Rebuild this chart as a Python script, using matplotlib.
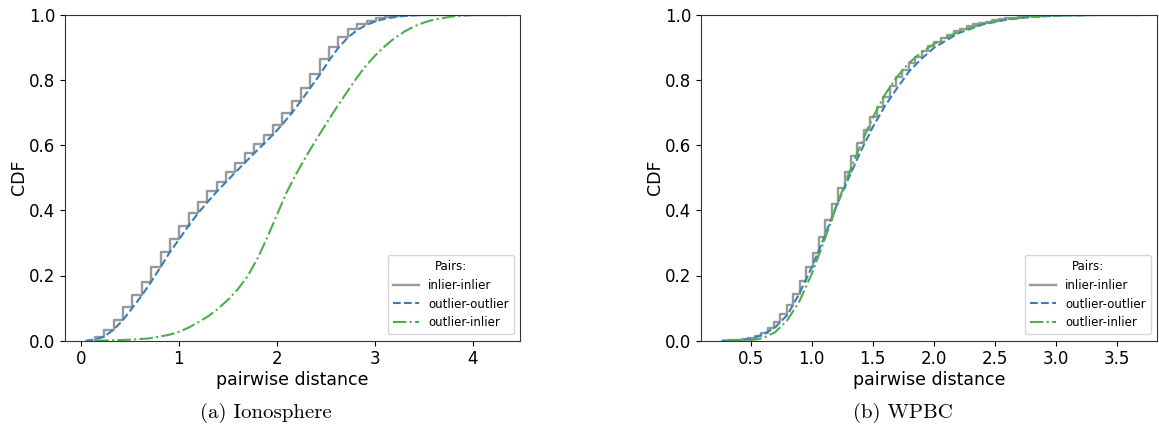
import numpy as np
import matplotlib
matplotlib.use("Agg")
import matplotlib.pyplot as plt

# ---------------- Ionosphere ----------------
# inlier-inlier: cumulative histogram (bin left edges and cumulative heights)
iono_ii_edges_start = 0.146
iono_ii_bin_width = 0.0955
iono_ii_cdf = [0.012, 0.033, 0.064, 0.102, 0.139, 0.180, 0.227, 0.272, 0.311, 0.353,
               0.393, 0.425, 0.458, 0.487, 0.517, 0.546, 0.575, 0.602, 0.631, 0.662,
               0.698, 0.736, 0.776, 0.818, 0.863, 0.902, 0.931, 0.955, 0.971, 0.982,
               0.990, 0.994, 0.997, 0.999, 1.0, 1.0, 1.0, 1.0, 1.0, 1.0, 1.0, 1.0, 1.0, 1.0]

# outlier-outlier: smoothed CDF
iono_oo_x = [0.05, 0.15, 0.2415, 0.337, 0.4325, 0.528, 0.6235, 0.719, 0.8145, 0.910,
             1.0055, 1.101, 1.1965, 1.292, 1.3875, 1.483, 1.5785, 1.674, 1.7695, 1.865,
             1.9605, 2.056, 2.1515, 2.247, 2.3425, 2.438, 2.5335, 2.629, 2.7245, 2.82,
             2.9155, 3.011, 3.1065, 3.25, 3.45, 3.7, 3.95]
iono_oo_y = [0.0, 0.004, 0.013, 0.034, 0.064, 0.101, 0.139, 0.181, 0.226, 0.272,
             0.312, 0.353, 0.391, 0.425, 0.457, 0.487, 0.517, 0.546, 0.575, 0.603,
             0.632, 0.663, 0.698, 0.736, 0.776, 0.816, 0.860, 0.899, 0.930, 0.953,
             0.969, 0.980, 0.988, 0.995, 0.999, 1.0, 1.0]

# outlier-inlier: smoothed CDF
iono_oi_x = [0.15, 0.3, 0.5, 0.7, 0.9, 1.0, 1.1, 1.2, 1.3, 1.4, 1.5, 1.6, 1.7, 1.8, 1.9,
             2.0, 2.1, 2.2, 2.3, 2.4, 2.5, 2.6, 2.7, 2.8, 2.9, 3.0, 3.1, 3.2, 3.3, 3.4,
             3.5, 3.6, 3.8, 4.0, 4.27]
iono_oi_y = [0.0, 0.001, 0.003, 0.007, 0.018, 0.027, 0.040, 0.057, 0.075, 0.098, 0.125,
             0.157, 0.197, 0.250, 0.315, 0.385, 0.455, 0.513, 0.566, 0.616, 0.664, 0.711,
             0.756, 0.800, 0.840, 0.874, 0.903, 0.928, 0.948, 0.964, 0.976, 0.985,
             0.995, 0.999, 1.0]

# ---------------- WPBC ----------------
wpbc_ii_edges_start = 0.27
wpbc_ii_bin_width = 0.0526
wpbc_ii_cdf = [0.0005, 0.001, 0.002, 0.004, 0.007, 0.014, 0.023, 0.038, 0.058, 0.082,
               0.110, 0.143, 0.184, 0.225, 0.270, 0.319, 0.370, 0.419, 0.467, 0.517,
               0.567, 0.607, 0.646, 0.685, 0.716, 0.748, 0.781, 0.810, 0.830, 0.851,
               0.869, 0.888, 0.903, 0.916, 0.928, 0.939, 0.949, 0.957, 0.964, 0.970,
               0.975, 0.979, 0.983, 0.986, 0.989, 0.991, 0.993, 0.995, 0.996, 0.997,
               0.998, 0.998, 0.999, 0.999, 0.9995, 1.0, 1.0, 1.0, 1.0, 1.0, 1.0, 1.0,
               1.0, 1.0, 1.0]

wpbc_oo_x = [0.26, 0.4, 0.5, 0.6, 0.7, 0.8, 0.9, 1.0, 1.1, 1.2, 1.3, 1.4, 1.5, 1.6, 1.7,
             1.8, 1.9, 2.0, 2.2, 2.4, 2.6, 2.8, 3.0, 3.3, 3.66]
wpbc_oo_y = [0.0, 0.001, 0.005, 0.019, 0.041, 0.079, 0.146, 0.225, 0.315, 0.412, 0.497,
             0.580, 0.655, 0.720, 0.775, 0.827, 0.865, 0.898, 0.943, 0.970, 0.985,
             0.993, 0.997, 0.999, 1.0]

wpbc_oi_x = [0.3, 0.45, 0.55, 0.6, 0.7, 0.8, 0.9, 1.0, 1.1, 1.2, 1.3, 1.4, 1.5, 1.6, 1.7,
             1.8, 1.9, 2.0, 2.2, 2.4, 2.6, 2.8, 3.0, 3.3, 3.65]
wpbc_oi_y = [0.0, 0.001, 0.004, 0.008, 0.026, 0.063, 0.122, 0.205, 0.305, 0.410, 0.510,
             0.600, 0.685, 0.755, 0.810, 0.853, 0.885, 0.910, 0.947, 0.972, 0.986,
             0.994, 0.997, 0.999, 1.0]

series_labels = ["inlier-inlier", "outlier-outlier", "outlier-inlier"]
captions = ["(a) Ionosphere", "(b) WPBC"]
iono_xticks = [0, 1, 2, 3, 4]
wpbc_xticks = [0.5, 1.0, 1.5, 2.0, 2.5, 3.0, 3.5]

GRAY = "#999999"
BLUE = "#377eb8"
GREEN = "#4daf4a"

plt.rcParams["font.family"] = ["DejaVu Sans"]

fig = plt.figure(figsize=(11.59, 4.33), dpi=100)
ax1 = fig.add_axes([65 / 1159, 92.3 / 433, 455 / 1159, 326 / 433])
ax2 = fig.add_axes([701 / 1159, 92.3 / 433, 456 / 1159, 326 / 433])


def draw(ax, start, width, cdf, oo_x, oo_y, oi_x, oi_y, xlim, xticks, xticklabels):
    edges = start + width * np.arange(len(cdf) + 1)
    xs = np.concatenate([[edges[0]], edges])
    ys = np.concatenate([[0.0], cdf, [cdf[-1]]])
    ax.step(xs, ys, where="post", color=GRAY, lw=1.7, label=series_labels[0])
    ax.plot(oo_x, oo_y, color=BLUE, lw=1.5, ls="--", label=series_labels[1])
    ax.plot(oi_x, oi_y, color=GREEN, lw=1.5, ls="-.", label=series_labels[2])
    ax.set_xlim(*xlim)
    ax.set_ylim(0, 1)
    ax.set_xticks(xticks)
    ax.set_xticklabels(xticklabels)
    ax.set_yticks([0, 0.2, 0.4, 0.6, 0.8, 1.0])
    ax.set_yticklabels(["0.0", "0.2", "0.4", "0.6", "0.8", "1.0"])
    ax.tick_params(labelsize=12)
    ax.set_xlabel("pairwise distance", fontsize=12.5, labelpad=1.5)
    ax.set_ylabel("CDF", fontsize=12.5, labelpad=1)
    ax.legend(title="Pairs:", loc="lower right", fontsize=8.5, title_fontsize=8.5,
              handlelength=2.2, handletextpad=0.8, borderaxespad=0.55,
              labelspacing=0.5)
    for sp in ax.spines.values():
        sp.set_color("#333333")


draw(ax1, iono_ii_edges_start, iono_ii_bin_width, iono_ii_cdf,
     iono_oo_x, iono_oo_y, iono_oi_x, iono_oi_y, (-0.16, 4.48),
     iono_xticks, [str(t) for t in iono_xticks])
draw(ax2, wpbc_ii_edges_start, wpbc_ii_bin_width, wpbc_ii_cdf,
     wpbc_oo_x, wpbc_oo_y, wpbc_oi_x, wpbc_oi_y, (0.092, 3.83),
     wpbc_xticks, [f"{t:.1f}" for t in wpbc_xticks])

fig.text(266 / 1159, 1 - 413 / 433, captions[0], ha="center", va="center",
         family="cmr10", fontsize=15)
fig.text(903 / 1159, 1 - 413 / 433, captions[1], ha="center", va="center",
         family="cmr10", fontsize=15)

fig.savefig("out.png", dpi=100)
